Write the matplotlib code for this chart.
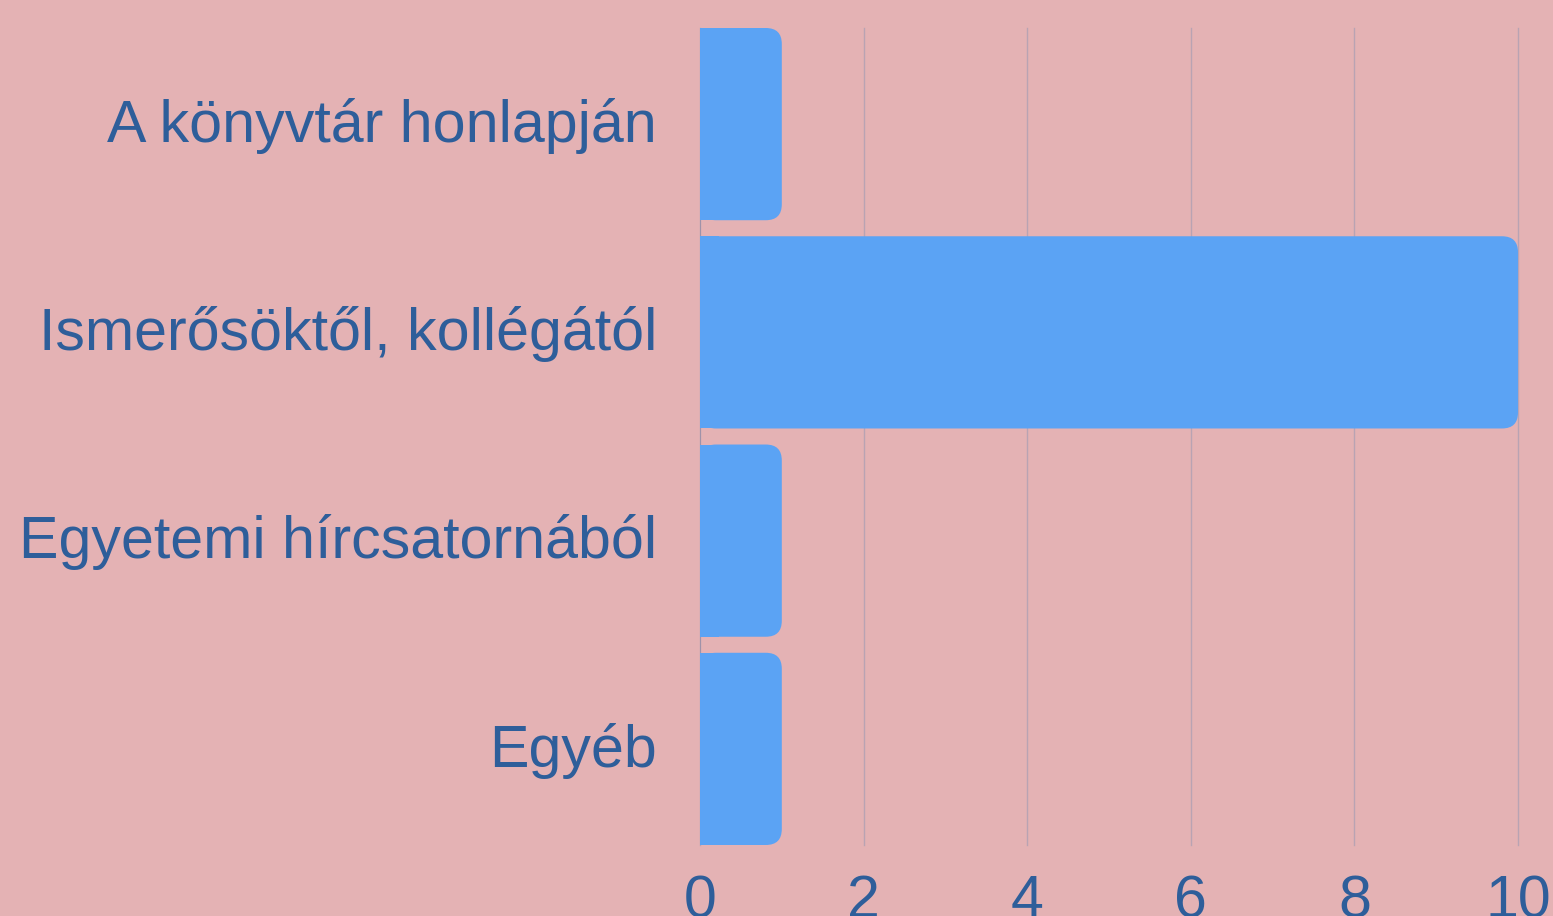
import matplotlib
matplotlib.use("Agg")
import matplotlib.pyplot as plt
import matplotlib.transforms as mtransforms
from matplotlib.patches import FancyBboxPatch, Rectangle

categories = ["A könyvtár honlapján", "Ismerősöktől, kollégától",
              "Egyetemi hírcsatornából", "Egyéb"]
values = [1, 10, 1, 1]
xticks = [0, 2, 4, 6, 8, 10]

bg = "#E4B2B4"
bar_color = "#5BA3F4"
text_color = "#2E5E9A"
grid_color = "#B9A3B3"

plt.rcParams["font.family"] = ["Liberation Sans", "DejaVu Sans"]

fig = plt.figure(figsize=(15.53, 9.16), dpi=100, facecolor=bg)
ax = fig.add_axes([700 / 1553, 1 - 845 / 916, 818 / 1553, 817 / 916])
ax.set_facecolor(bg)

height = 0.923
ax.set_xlim(0, 10)
ax.set_ylim(len(categories) - 1 + height / 2, -height / 2)

# px per data unit, for rounding the right corners evenly
px_x = 818 / 10
px_y = 817 / (len(categories) - 1 + height)
aspect = px_x / px_y
r = 16 / px_x

for i, v in enumerate(values):
    y0 = i - height / 2
    ax.add_patch(FancyBboxPatch((0, y0), v, height,
                                boxstyle="round,pad=0,rounding_size=%f" % r,
                                mutation_aspect=aspect, fc=bar_color, ec="none",
                                zorder=3))
    ax.add_patch(Rectangle((0, y0), r * 1.2, height, fc=bar_color, ec="none",
                           zorder=3))

ax.set_xticks(xticks)
ax.set_xticklabels([str(t) for t in xticks])
ax.set_yticks(range(len(categories)))
ax.set_yticklabels(categories)
ax.tick_params(axis="both", length=0, labelsize=42.6, labelcolor=text_color)
ax.tick_params(axis="y", pad=31)
ax.tick_params(axis="x", pad=21)
shift = mtransforms.ScaledTranslation(0, 3 / 72, fig.dpi_scale_trans)
for lab in ax.get_yticklabels():
    lab.set_transform(lab.get_transform() + shift)

for t in xticks:
    ax.axvline(t, color=grid_color, linewidth=1, zorder=0, clip_on=False)
ax.axvline(0, color="#9A8FA8", linewidth=1.2, zorder=1)
for s in ax.spines.values():
    s.set_visible(False)

fig.savefig("out.png", dpi=100, facecolor=bg)
